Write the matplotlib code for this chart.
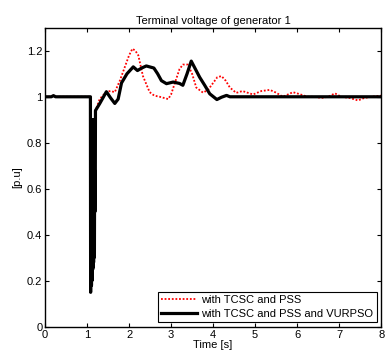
import matplotlib
matplotlib.use("Agg")
import matplotlib.pyplot as plt

plt.rcParams['font.family'] = ['Liberation Sans', 'DejaVu Sans']

# Time [s] and voltage [p.u]
t_black = [0, 0.15, 0.2, 0.25, 1.08, 1.085, 1.09, 1.095, 1.10, 1.105, 1.11, 1.115, 1.12, 1.125,
           1.13, 1.135, 1.14, 1.145, 1.15, 1.155, 1.16, 1.165, 1.17, 1.175, 1.18, 1.185, 1.19, 1.195,
           1.2, 1.3, 1.46, 1.56, 1.66, 1.74, 1.82, 1.95, 2.10, 2.2, 2.3, 2.41, 2.59, 2.68, 2.77,
           2.89, 3.05, 3.2, 3.28, 3.38, 3.48, 3.58, 3.68, 3.8, 3.92, 4.09, 4.2, 4.32, 4.4, 4.5, 8.0]
v_black = [1.0, 1.0, 1.005, 1.0, 1.0, 0.15, 0.9, 0.2, 0.5, 0.18, 0.48, 0.2, 0.5, 0.22,
           0.9, 0.25, 0.55, 0.26, 0.6, 0.28, 0.9, 0.3, 0.62, 0.32, 0.68, 0.5, 0.66, 0.55,
           0.94, 0.97, 1.022, 0.995, 0.971, 0.99, 1.06, 1.10, 1.13, 1.114, 1.125, 1.134, 1.125, 1.10, 1.07,
           1.057, 1.064, 1.058, 1.05, 1.10, 1.155, 1.12, 1.085, 1.05, 1.013, 0.988, 0.998, 1.006, 1.0, 1.0, 1.0]

t_red = [0, 0.15, 0.2, 0.25, 1.08, 1.085, 1.1, 1.15, 1.2, 1.3, 1.46, 1.56, 1.66, 1.78, 1.9, 2.0, 2.08,
         2.15, 2.22, 2.33, 2.49, 2.6, 2.73, 2.93, 3.0, 3.09, 3.2, 3.28, 3.4, 3.5, 3.6, 3.76, 3.88, 4.0,
         4.1, 4.2, 4.3, 4.4, 4.55, 4.7, 4.95, 5.15, 5.35, 5.5, 5.66, 5.9, 6.05, 6.25, 6.4, 6.58,
         6.74, 6.9, 7.05, 7.25, 7.45, 7.6, 7.77, 8.0]
v_red = [1.0, 1.0, 1.005, 1.0, 1.0, 0.15, 0.3, 0.4, 0.94, 0.99, 1.022, 1.025, 1.02, 1.07, 1.13, 1.18, 1.209,
         1.2, 1.18, 1.09, 1.02, 1.005, 1.0, 0.99, 1.01, 1.06, 1.12, 1.14, 1.14, 1.1, 1.04, 1.018, 1.03, 1.06,
         1.085, 1.09, 1.07, 1.04, 1.017, 1.025, 1.01, 1.025, 1.03, 1.018, 1.0, 1.02, 1.012, 1.0, 1.0, 0.995,
         1.0, 1.015, 1.0, 0.995, 0.984, 0.995, 1.0, 1.005]

x_ticks = [0, 1, 2, 3, 4, 5, 6, 7, 8]
y_ticks = [0, 0.2, 0.4, 0.6, 0.8, 1.0, 1.2]
y_labels = ['0', '0.2', '0.4', '0.6', '0.8', '1', '1.2']

fig = plt.figure(figsize=(3.85, 3.56), dpi=100)
ax = fig.add_axes([0.117, 0.082, 0.873, 0.840])

ax.plot(t_red, v_red, color='red', linestyle=(0, (1, 1)), linewidth=1.3, label='with TCSC and PSS')
ax.plot(t_black, v_black, color='black', linewidth=2.3, label='with TCSC and PSS and VURPSO')

ax.set_xlim(0, 8)
ax.set_ylim(0, 1.3)
ax.set_xticks(x_ticks)
ax.set_xticklabels([str(x) for x in x_ticks])
ax.set_yticks(y_ticks)
ax.set_yticklabels(y_labels)
ax.tick_params(direction='in', length=3, width=0.8, labelsize=8, top=True, right=True, pad=2)
for s in ax.spines.values():
    s.set_linewidth(1.0)

ax.set_title('Terminal voltage of generator 1', fontsize=8, pad=3)
ax.set_xlabel('Time [s]', fontsize=8, labelpad=0)
ax.set_ylabel('[p.u]', fontsize=8, labelpad=3)

leg = ax.legend(loc='lower right', fontsize=8, frameon=True, fancybox=False, framealpha=1,
                edgecolor='black', handlelength=3.2, borderaxespad=0.4, labelspacing=0.35,
                borderpad=0.3, handletextpad=0.4)
leg.get_frame().set_linewidth(0.8)

fig.savefig('out.png', dpi=100)
